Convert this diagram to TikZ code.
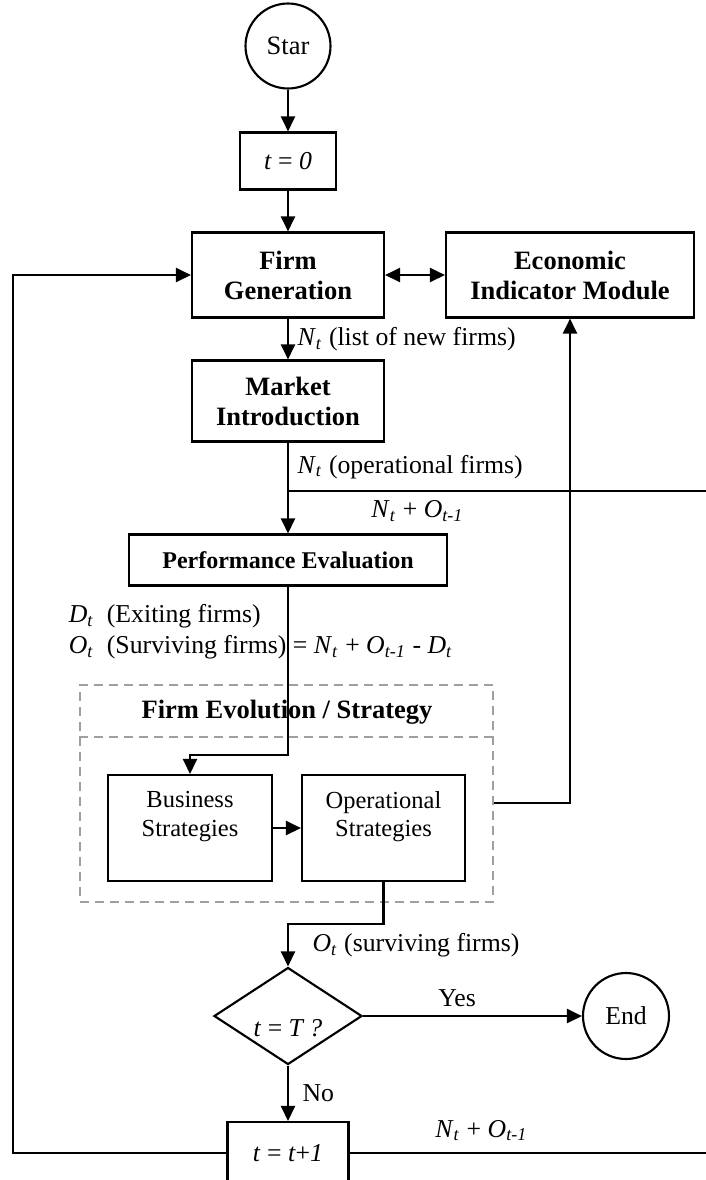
\documentclass[tikz,border=0pt]{standalone}
\usepackage{fontspec}
\setmainfont{Liberation Serif}
\usepackage{tikz}
\usetikzlibrary{arrows.meta, shapes.geometric}
\newdimen\pxu \pxu=0.4pt
\newcommand{\vsub}[2]{\textit{#1}\textsubscript{\textit{#2}}}

\begin{document}
\begin{tikzpicture}[x=0.4pt, y=-0.4pt, font=\fontsize{10.3}{12.4}\selectfont, line join=miter,
    plainbox/.style={draw, line width=0.85pt, align=center, inner sep=0pt},
    boldbox/.style={plainbox, font=\fontsize{10.6}{12}\selectfont\bfseries},
    stratbox/.style={plainbox, font=\fontsize{9.8}{11.3}\selectfont, minimum height=106\pxu},
    termcirc/.style={draw, circle, line width=0.85pt, inner sep=0pt, minimum size=85\pxu},
    decision/.style={draw, diamond, line width=0.85pt, inner sep=0pt, minimum width=148\pxu, minimum height=97\pxu},
    groupbox/.style={draw=gray!75, dash pattern=on 3.6pt off 2.4pt, line width=0.6pt, inner sep=0pt},
    tip/.tip={Triangle[length=6pt, width=5.6pt]},
    flow/.style={line width=1pt, -tip},
    link/.style={line width=1pt}]
    \useasboundingbox (0,0) rectangle (706,1180);
    \clip (0,0) rectangle (706,1180);

    % Main column
    \node[termcirc, font=\fontsize{10.6}{12}\selectfont] (start) at (288,46) {Star};
    \node[plainbox, minimum width=96\pxu, minimum height=57\pxu] (tzero) at (288,161) {\textit{t} = \textit{0}};
    \node[boldbox, minimum width=192\pxu, minimum height=85\pxu] (firmgen) at (288,275) {Firm\\Generation};
    \node[boldbox, minimum width=248\pxu, minimum height=85\pxu] (econ) at (570,275) {Economic\\Indicator Module};
    \node[boldbox, minimum width=192\pxu, minimum height=81\pxu] (market) at (288,401) {Market\\Introduction};
    \node[boldbox, font=\fontsize{9.6}{11.3}\selectfont\bfseries, minimum width=318\pxu, minimum height=51\pxu] (perf) at (288,560) {Performance Evaluation};

    % Firm evolution group (dashed), title row on top
    \node[groupbox, minimum width=413\pxu, minimum height=217\pxu] (evol) at (286.5,793.5) {};
    \draw[groupbox] (evol.west |- 0,737) -- (evol.east |- 0,737);
    \node[font=\fontsize{10.6}{12}\selectfont\bfseries] (evoltitle) at (287,712) {Firm Evolution / Strategy};
    \node[stratbox, minimum width=164\pxu] (business) at (190,828) {Business\\Strategies\\ \mbox{}};
    \node[stratbox, minimum width=163\pxu] (oper) at (383.5,828) {Operational\\Strategies\\ \mbox{}};

    % Decision and loop counter
    \node[decision, label={[yshift=-5pt]center:{\textit{t} = \textit{T ?}}}] (dec) at (288,1016) {};
    \node[termcirc, minimum size=86\pxu] (finish) at (626,1016) {End};
    \node[plainbox, minimum width=121\pxu, minimum height=62\pxu] (tnext) at (288,1153) {\textit{t} = \textit{t}+\textit{1}};

    % Bends and free ends at the edge
    \coordinate (split) at (288,491);
    \coordinate (edgeA) at (706,491);
    \coordinate (bend1) at (288,755);
    \coordinate (bend2) at (383.5,924);
    \coordinate (bend3) at (570,803);
    \coordinate (leftB) at (13,1153);
    \coordinate (edgeB) at (706,1153);

    % Connectors
    \draw[flow] (start) -- (tzero);
    \draw[flow] (tzero) -- (firmgen);
    \draw[flow, tip-tip] (firmgen) -- (econ);
    \draw[flow] (firmgen) -- node[right] {\vsub{N}{t} (list of new firms)} (market);
    \draw[link] (market) -- node[right] {\vsub{N}{t} (operational firms)} (split);
    \draw[flow] (split) -- (perf);
    \draw[link] (split) -- node[pos=0.31, below] {\vsub{N}{t} + \vsub{O}{t-1}} (edgeA);
    \draw[flow] (perf.south) -- (bend1) -| (business.north);
    \node[align=left, anchor=west] (exitlbl) at (60,632)
        {\vsub{D}{t}\ \ (Exiting firms)\\ \vsub{O}{t}\ \ (Surviving firms) = \vsub{N}{t} + \vsub{O}{t-1} - \vsub{D}{t}};
    \draw[flow] (business) -- (oper);
    \draw[flow] (evol.east |- bend3) -- (bend3) -- (econ.south);
    \draw[flow] (oper.south) -- (bend2) -| node[pos=0.75, right, xshift=6pt] {\vsub{O}{t} (surviving firms)} (dec.north);
    \draw[flow] (dec) -- node[pos=0.43, above] {Yes} (finish);
    \draw[flow] (dec) -- node[right, xshift=2pt] {No} (tnext);
    \draw[flow] (tnext.west) -- (leftB) |- (firmgen.west);
    \draw[link] (tnext.east) -- node[pos=0.37, above, yshift=1pt] {\vsub{N}{t} + \vsub{O}{t-1}} (edgeB);
\end{tikzpicture}
\end{document}
